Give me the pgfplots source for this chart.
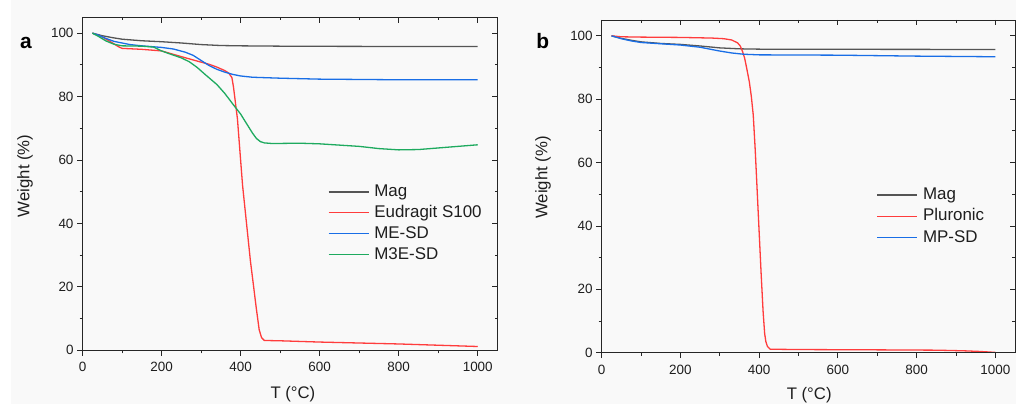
\documentclass[border=0pt]{standalone}
\usepackage{fontspec}
\setmainfont{Liberation Sans}
\usepackage{pgfplots}
\pgfplotsset{compat=1.18}
\definecolor{cMag}{RGB}{85,85,85}
\definecolor{cRed}{RGB}{255,60,60}
\definecolor{cBlue}{RGB}{25,110,230}
\definecolor{cGreen}{RGB}{30,170,95}
\definecolor{bgc}{RGB}{249,249,249}
\definecolor{txt}{RGB}{30,30,30}
\pgfplotsset{
  common/.style={
    width=415bp, height=333bp, scale only axis,
    xmin=0, xmax=1050, ymin=0, ymax=105,
    xtick={0,200,...,1000}, ytick={0,20,...,100},
    minor x tick num=1, minor y tick num=1,
    major tick length=5.5bp, minor tick length=3bp,
    axis line style={line width=0.9bp, black!85},
    every tick/.style={line width=0.9bp, black!85},
    /pgf/number format/1000 sep={},
    /pgf/number format/assume math mode=true,
    tick label style={font=\fontsize{13.5}{14}\selectfont, text=txt},
    xticklabel style={yshift=-3bp},
    label style={font=\fontsize{16.8}{17}\selectfont, text=txt},
  },
  main/.style={common, tick pos=left, tick align=outside,
    legend cell align=left,
    legend image code/.code={\draw[##1, line width=1.3bp] (0bp,0bp) -- (40bp,0bp); \path (45bp,0bp);},
  },
  mirror/.style={common, tick pos=right, tick align=inside,
    xticklabels={}, yticklabels={}},
  every axis plot/.append style={line width=1.3bp, no markers},
}
\begin{document}
\begin{tikzpicture}[x=1bp,y=1bp]
\useasboundingbox (0,0) rectangle (1016,404);
\fill[bgc] (11,0) rectangle (1016,404);

% ---------------- panel a ----------------
\begin{axis}[main, at={(82.5bp,53.7bp)},
  xlabel={T (°C)}, ylabel={Weight (\%)},
  xlabel style={at={(axis description cs:0.507,-0.131)}, anchor=center},
  ylabel style={at={(axis description cs:-0.1386,0.524)}, anchor=center},
  legend style={draw=none, fill=none, at={(axis description cs:0.5916,0.5006)},
    anchor=north west, inner sep=0pt, outer sep=0pt, row sep=4.3bp,
    font=\fontsize{17}{18}\selectfont, text=txt,
    nodes={inner sep=0pt, text height=13bp, text depth=3.5bp}},
]
\addplot[cMag] coordinates {(25,100) (50,99.2) (75,98.6) (100,98.1) (150,97.6) (200,97.3) (250,96.9) (300,96.4) (350,96.1) (400,96.0) (500,95.9) (600,95.85) (800,95.8) (1000,95.8)};
\addlegendentry{Mag}
\addplot[cRed] coordinates {(25,100) (50,98.8) (75,97) (90,95.8) (100,95.2) (150,94.9) (200,94.4) (250,92.6) (290,91.2) (320,90.2) (340,89.3) (360,88.2) (370,87.4) (378,86) (382,83) (386,79) (392,73) (400,60) (405,52) (410,46) (415,40) (420,34) (425,28) (433,20) (440,13) (447,6.5) (453,4) (460,3.1) (500,3.0) (600,2.6) (700,2.3) (800,2.0) (900,1.6) (1000,1.2)};
\addlegendentry{Eudragit S100}
\addplot[cBlue] coordinates {(25,100) (40,99.4) (60,98.3) (80,97.4) (100,96.9) (120,96.4) (150,96.0) (200,95.5) (230,95.0) (260,94) (280,93) (300,91.4) (320,89.8) (340,88.6) (360,87.7) (380,87.0) (400,86.5) (430,86.1) (500,85.8) (600,85.5) (800,85.3) (1000,85.3)};
\addlegendentry{ME-SD}
\addplot[cGreen] coordinates {(25,100) (40,99) (60,97.5) (80,96.5) (100,96.0) (150,95.9) (180,95.6) (200,94.4) (220,93.5) (250,92.2) (270,91.0) (290,89.2) (310,87) (340,83.8) (360,81) (380,77.7) (400,74.5) (410,72.5) (420,70.5) (430,68.5) (440,66.8) (450,65.8) (460,65.4) (480,65.2) (550,65.3) (600,65.1) (700,64.3) (750,63.6) (800,63.2) (850,63.3) (900,63.8) (950,64.3) (1000,64.8)};
\addlegendentry{M3E-SD}
\end{axis}
\begin{axis}[mirror, at={(82.5bp,53.7bp)}]
\end{axis}

% ---------------- panel b ----------------
\begin{axis}[main, at={(601.7bp,51.3bp)}, width=413.3bp, height=332.7bp,
  xlabel={T (°C)}, ylabel={Weight (\%)},
  xlabel style={at={(axis description cs:0.502,-0.127)}, anchor=center},
  ylabel style={at={(axis description cs:-0.142,0.527)}, anchor=center},
  legend style={draw=none, fill=none, at={(axis description cs:0.6654,0.4988)},
    anchor=north west, inner sep=0pt, outer sep=0pt, row sep=4.65bp,
    font=\fontsize{17}{18}\selectfont, text=txt,
    nodes={inner sep=0pt, text height=13bp, text depth=3.5bp}},
]
\addplot[cMag] coordinates {(25,100) (50,99.2) (75,98.6) (100,98.1) (150,97.6) (200,97.3) (250,96.8) (300,96.2) (350,95.9) (400,95.8) (600,95.75) (1000,95.7)};
\addlegendentry{Mag}
\addplot[cRed] coordinates {(25,100) (50,99.7) (100,99.6) (200,99.5) (280,99.3) (310,99.1) (330,98.7) (345,97.8) (352,96.8) (358,95) (363,93) (368,90) (375,85.5) (380,81) (385,75) (390,64) (395,51) (400,38) (405,25) (410,13) (414,6) (417,3.5) (421,2) (428,1.1) (500,1.0) (700,0.9) (850,0.8) (920,0.6) (960,0.4) (1000,0.1)};
\addlegendentry{Pluronic}
\addplot[cBlue] coordinates {(25,100) (50,99.1) (75,98.4) (100,97.9) (150,97.5) (200,97.1) (250,96.4) (300,95.2) (330,94.6) (360,94.2) (400,94.0) (600,93.9) (800,93.6) (1000,93.4)};
\addlegendentry{MP-SD}
\end{axis}
\begin{axis}[mirror, at={(601.7bp,51.3bp)}, width=413.3bp, height=332.7bp]
\end{axis}

\node[font=\fontsize{21}{21}\selectfont\bfseries, text=black] at (26,360.7) {a};
\node[font=\fontsize{21}{21}\selectfont\bfseries, text=black] at (542.7,363) {b};
\end{tikzpicture}
\end{document}
